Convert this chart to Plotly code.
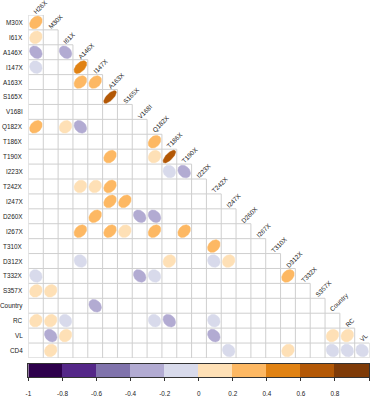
import numpy as np
import plotly.graph_objects as go

# ---------------- data ----------------
variables = ["H26X", "M30X", "I61X", "A146X", "I147X", "A163X", "S165X", "V168I",
             "Q182X", "T186X", "T190X", "I223X", "T242X", "I247X", "D260X", "I267X",
             "T310X", "D312X", "T332X", "S357X", "Country", "RC", "VL", "CD4"]

# significant pairwise correlations (row variable, column variable, r)
pair_row = ["M30X", "I61X", "A146X", "A146X", "I147X", "I147X", "A163X", "A163X",
            "S165X", "Q182X", "Q182X", "Q182X", "T186X", "T190X", "T190X", "T190X",
            "I223X", "I223X", "T242X", "T242X", "T242X", "I247X", "I247X",
            "D260X", "D260X", "D260X", "I267X", "I267X", "I267X", "I267X", "I267X",
            "T310X", "D312X", "D312X", "D312X", "D312X",
            "T332X", "T332X", "T332X", "T332X", "S357X", "S357X", "Country",
            "RC", "RC", "RC", "RC", "RC", "RC",
            "VL", "VL", "VL", "VL", "VL",
            "CD4", "CD4", "CD4", "CD4", "CD4", "CD4"]
pair_col = ["H26X", "H26X", "H26X", "I61X", "H26X", "A146X", "A146X", "I147X",
            "A163X", "H26X", "I61X", "A146X", "Q182X", "A163X", "Q182X", "T186X",
            "T186X", "T190X", "A146X", "I147X", "A163X", "A163X", "S165X",
            "I147X", "V168I", "Q182X", "A146X", "A163X", "S165X", "Q182X", "T190X",
            "T242X", "A146X", "T186X", "T242X", "I247X",
            "H26X", "V168I", "Q182X", "D312X", "H26X", "M30X", "I147X",
            "H26X", "M30X", "I61X", "Q182X", "T186X", "T242X",
            "M30X", "I61X", "T242X", "Country", "RC",
            "M30X", "I247X", "D312X", "Country", "RC", "VL"]
pair_r = [0.30, 0.14, -0.26, -0.26, -0.12, 0.52, 0.30, 0.30,
          0.72, 0.30, 0.14, -0.26, 0.30, 0.30, 0.14, 0.72,
          -0.12, -0.26, 0.14, 0.14, 0.30, 0.30, 0.30,
          0.30, -0.26, -0.26, 0.30, 0.30, 0.14, 0.30, 0.30,
          0.30, -0.12, 0.14, -0.12, 0.14,
          -0.12, -0.26, -0.12, 0.30, 0.14, 0.14, -0.26,
          0.14, 0.14, -0.12, -0.12, -0.26, -0.12,
          -0.26, 0.14, -0.26, 0.14, 0.14,
          0.14, -0.12, 0.14, -0.12, -0.12, -0.12]

bin_colors = ["#2d004b", "#542788", "#8073ac", "#b2abd2", "#d8daeb",
              "#fee0b6", "#fdb863", "#e08214", "#b35806", "#7f3b08"]
bin_edges = [-1.0, -0.8, -0.6, -0.4, -0.2, 0.0, 0.2, 0.4, 0.6, 0.8, 1.0]
tick_text = ["-1", "-0.8", "-0.6", "-0.4", "-0.2", "0", "0.2", "0.4", "0.6", "0.8", "1"]

# ---------------- geometry ----------------
W, H = 370, 397
L, T, C = 25.67, 15.0, 14.95
n = len(variables) - 1
FONT = "Liberation Sans, Arial, sans-serif"
FS = 6.4
TXT = "#222222"

def px2paper_x(px):
    return px / W

def px2paper_y(py):
    return 1 - py / H

fig = go.Figure()

# grid (lower triangle incl. diagonal)
gx, gy = [], []
for i in range(1, n + 1):
    gx += [0.5, i + 0.5, None]
    gy += [i - 0.5, i - 0.5, None]
gx += [0.5, n + 0.5, None]
gy += [n + 0.5, n + 0.5, None]
gx += [0.5, 0.5, None]
gy += [0.5, n + 0.5, None]
for j in range(1, n + 1):
    gx += [j + 0.5, j + 0.5, None]
    gy += [j - 0.5, n + 0.5, None]
fig.add_trace(go.Scatter(x=gx, y=gy, mode="lines", line=dict(color="#cfcfcf", width=1),
                         hoverinfo="skip", cliponaxis=False))

# ellipses
k = np.linspace(0, 2 * np.pi, 64)
groups = {}
for rv, cv, r in zip(pair_row, pair_col, pair_r):
    i = variables.index(rv)
    j = variables.index(cv) + 1
    d = np.arccos(r)
    ex = j + 0.85 * np.cos(k + d / 2) / 2
    ey = i - 0.85 * np.cos(k - d / 2) / 2
    b = min(int((r + 1) / 0.2), 9)
    gxs, gys = groups.setdefault(b, ([], []))
    gxs += list(ex) + [None]
    gys += list(ey) + [None]
for b, (xs, ys) in sorted(groups.items()):
    fig.add_trace(go.Scatter(x=xs, y=ys, mode="lines", fill="toself",
                             fillcolor=bin_colors[b], line=dict(color=bin_colors[b], width=0.5),
                             hoverinfo="skip"))

# color legend bar
centers = [(bin_edges[q] + bin_edges[q + 1]) / 2 for q in range(10)]
fig.add_trace(go.Bar(x=centers, y=[1] * 10, width=0.2, marker=dict(color=bin_colors, line=dict(width=0)),
                     xaxis="x2", yaxis="y2", hoverinfo="skip"))

annotations = []
# row labels
for i in range(1, n + 1):
    annotations.append(dict(text=variables[i], xref="paper", yref="paper",
                            x=px2paper_x(L - 3.0), y=px2paper_y(T + (i - 0.5) * C),
                            xanchor="right", yanchor="middle", showarrow=False,
                            font=dict(family=FONT, size=FS, color=TXT)))
# diagonal column labels
for j in range(1, n + 1):
    annotations.append(dict(text=variables[j - 1], xref="paper", yref="paper",
                            x=px2paper_x(L + (j - 0.5) * C - 6.5), y=px2paper_y(T + (j - 1) * C + 3.0),
                            xanchor="left", yanchor="bottom", textangle=-45, showarrow=False,
                            font=dict(family=FONT, size=FS, color=TXT)))

fig.update_layout(
    width=W, height=H, margin=dict(l=0, r=0, t=0, b=0),
    paper_bgcolor="white", plot_bgcolor="white", showlegend=False, bargap=0,
    hovermode=False,
    xaxis=dict(domain=[L / W, (L + n * C) / W], range=[0.5, n + 0.5], visible=False, fixedrange=True),
    yaxis=dict(domain=[1 - (T + n * C) / H, 1 - T / H], range=[n + 0.5, 0.5], visible=False, fixedrange=True),
    xaxis2=dict(domain=[L / W, 369.0 / W], range=[-1, 1], anchor="y2", fixedrange=True,
                tickmode="array", tickvals=bin_edges, ticktext=tick_text,
                ticks="outside", ticklen=3, tickwidth=1, tickcolor="#333333",
                ticklabelstandoff=7,
                tickfont=dict(family=FONT, size=FS, color=TXT),
                showgrid=False, zeroline=False, showline=True, mirror=True,
                linecolor="#333333", linewidth=1),
    yaxis2=dict(domain=[1 - 378.3 / H, 1 - 365.0 / H], range=[0, 1], anchor="x2", fixedrange=True,
                showticklabels=False, ticks="", showgrid=False, zeroline=False,
                showline=True, mirror=True, linecolor="#333333", linewidth=1),
    annotations=annotations,
)

fig.write_html("out.html", config={"displayModeBar": False},
               post_script="document.body.style.margin='0px';")
